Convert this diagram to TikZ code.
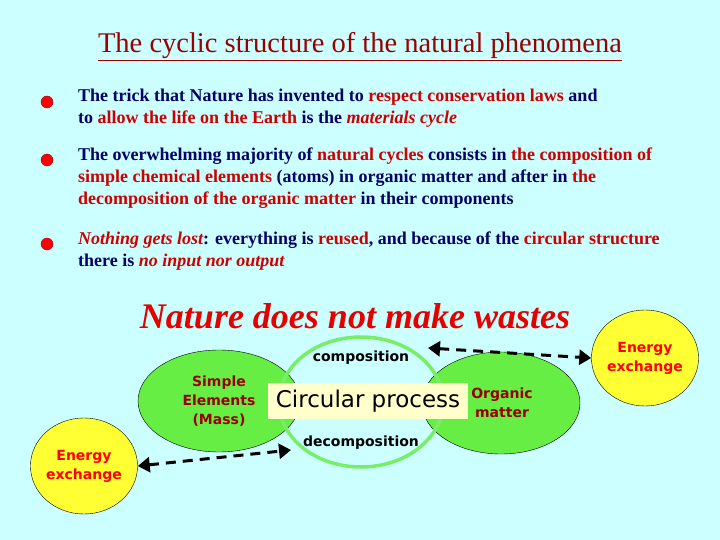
\documentclass[tikz,border=0pt]{standalone}
\usepackage{fontspec}
\setmainfont{Liberation Serif}
\newfontfamily\comic{DejaVu Sans}
\usetikzlibrary{arrows.meta,shapes.geometric}
\definecolor{bg}{HTML}{CCFFFF}
\definecolor{navy}{HTML}{000066}
\definecolor{rd}{HTML}{CC0000}
\definecolor{drd}{HTML}{990000}
\definecolor{grn}{HTML}{66EE44}
\definecolor{lgrn}{HTML}{77EE66}
\definecolor{yel}{HTML}{FFFF33}
\definecolor{cream}{HTML}{FFFFCC}
\begin{document}
\begin{tikzpicture}[x=1pt,y=-1pt,
  bul/.style={circle,fill=red,draw=drd,minimum size=12pt,inner sep=0},
  txt/.style={anchor=north west,align=left,text=navy,font=\bfseries\fontsize{18}{22}\selectfont,inner sep=0},
  blob/.style={ellipse,draw=black,fill=grn},
  enr/.style={ellipse,draw=black,fill=yel,text=red,font=\comic\bfseries\fontsize{14}{19}\selectfont,align=center},
  lab/.style={font=\comic\bfseries\fontsize{14}{19}\selectfont,align=center},
  darr/.style={line width=3pt,dash pattern=on 10pt off 7pt,{Triangle[length=12pt,width=15pt]}-{Triangle[length=12pt,width=15pt]}}]
\fill[bg] (0,0) rectangle (720,540);
\useasboundingbox (0,0) rectangle (720,540);
\node[text=drd,font=\fontsize{28.5}{32}\selectfont] (title) at (360,47) {\underline{The cyclic structure of the natural phenomena}};
\node[bul] (b1) at (47,102) {};
\node[bul] (b2) at (47,160) {};
\node[bul] (b3) at (47,244) {};
\node[txt] (t1) at (78,89) {The trick that Nature has invented to \textcolor{rd}{respect conservation laws} and\\ to \textcolor{rd}{allow the life on the Earth} is the \textcolor{rd}{\itshape materials cycle}};
\node[txt] (t2) at (78,148) {The overwhelming majority of \textcolor{rd}{natural cycles} consists in \textcolor{rd}{the composition of}\\ \textcolor{rd}{simple chemical elements} (atoms) in organic matter and after in \textcolor{rd}{the}\\ \textcolor{rd}{decomposition of the organic matter} in their components};
\node[txt] (t3) at (78,232) {\textcolor{rd}{\itshape Nothing gets lost}: everything is \textcolor{rd}{reused}, and because of the \textcolor{rd}{circular structure}\\ there is \textcolor{rd}{\itshape no input nor output}};
\node[text=red!90!black,font=\bfseries\itshape\fontsize{36}{40}\selectfont] (wastes) at (355,316) {Nature does not make wastes};
\node[blob,minimum width=162pt,minimum height=102pt] (se) at (219,401) {};
\node[blob,minimum width=158pt,minimum height=102pt] (om) at (501,403) {};
\draw[lgrn,line width=3.5pt] (361,402) ellipse [x radius=82, y radius=65];
\node[lab,text=drd] (sel) at (219,401) {Simple\\Elements\\(Mass)};
\node[lab,text=drd] (oml) at (502,403) {Organic\\matter};
\node[fill=cream,minimum width=200pt,minimum height=36pt,inner sep=0,font=\comic\fontsize{23}{26}\selectfont] (cp) at (368,401) {Circular process};
\node[lab] (comp) at (361,358) {composition};
\node[lab] (decomp) at (361,443) {decomposition};
\node[enr,minimum width=94pt,minimum height=96pt,inner sep=0] (e1) at (84,466) {Energy\\exchange};
\node[enr,minimum width=96pt,minimum height=96pt,inner sep=0] (e2) at (645,358) {Energy\\exchange};
\coordinate (r1) at (428,348);
\coordinate (l1) at (291,450);
\draw[darr] (r1) -- (e2.west);
\draw[darr] (e1.east) -- (l1);
\end{tikzpicture}
\end{document}
